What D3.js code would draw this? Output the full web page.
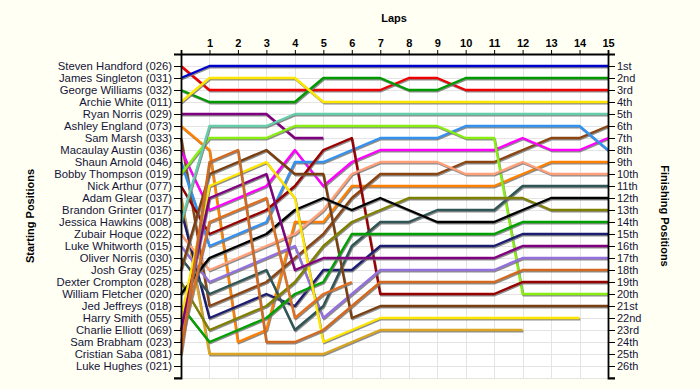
<!DOCTYPE html>
<html>
<head>
<meta charset="utf-8">
<script src="https://cdn.jsdelivr.net/npm/d3@7"></script>
<style>
  body { margin: 0; background: #fffff4; }
  svg { display: block; font-family: Arial, "Liberation Sans", sans-serif; }
</style>
</head>
<body>
<svg id="chart" width="700" height="390"></svg>
<script>
// grid order, top to bottom
var drivers = ['Steven Handford (026)', 'James Singleton (031)', 'George Williams (032)', 'Archie White (011)',
  'Ryan Norris (029)', 'Ashley England (073)', 'Sam Marsh (033)', 'Macaulay Austin (036)', 'Shaun Arnold (046)',
  'Bobby Thompson (019)', 'Nick Arthur (077)', 'Adam Glear (037)', 'Brandon Grinter (017)', 'Jessica Hawkins (008)',
  'Zubair Hoque (022)', 'Luke Whitworth (015)', 'Oliver Norris (030)', 'Josh Gray (025)', 'Dexter Crompton (028)',
  'William Fletcher (020)', 'Jed Jeffreys (018)', 'Harry Smith (055)', 'Charlie Elliott (069)', 'Sam Brabham (023)',
  'Cristian Saba (081)', 'Luke Hughes (021)']

var finishLabels = ['1st', '2nd', '3rd', '4th', '5th', '6th', '7th', '8th', '9th', '10th', '11th', '12th', '13th',
  '14th', '15th', '16th', '17th', '18th', '19th', '20th', '21st', '22nd', '23rd', '24th', '25th', '26th']

var lapTicks = d3.range(1, 16)

// position at lap 0..n, one row per driver (short rows = retired)
var positions = [
  [1, 3, 3, 3, 3, 3, 3, 3, 2, 2, 3, 3, 3, 3, 3, 3],
  [2, 1, 1, 1, 1, 1, 1, 1, 1, 1, 1, 1, 1, 1, 1, 1],
  [3, 4, 4, 4, 4, 2, 2, 2, 3, 3, 2, 2, 2, 2, 2, 2],
  [4, 2, 2, 2, 2, 4, 4, 4, 4, 4, 4, 4, 4, 4, 4, 4],
  [5, 5, 5, 5, 7, 7],
  [6, 8, 24, 23, 14, 14, 11, 11, 11, 11, 11, 11, 10, 9, 9, 9],
  [7, 21, 20, 19, 17, 15, 12, 10, 10, 10, 9, 9, 8, 7, 7, 6],
  [8, 13, 12, 11, 8, 11, 9, 8, 8, 8, 8, 8, 7, 8, 8, 7],
  [9, 16, 15, 14, 9, 9, 8, 7, 7, 7, 6, 6, 6, 6, 6, 8],
  [10, 7, 7, 7, 6, 6, 6, 6, 6, 6, 7, 7, 20, 20, 20, 20],
  [11, 15, 14, 13, 11, 8, 7, 20, 20, 20, 20, 20, 19, 19, 19, 19],
  [12, 25, 25, 25, 25, 25, 24, 23, 23, 23, 23, 23, 23],
  [13, 22, 21, 20, 21, 18, 18, 16, 16, 16, 16, 16, 15, 15, 15, 15],
  [14, 6, 6, 6, 5, 5, 5, 5, 5, 5, 5, 5, 5, 5, 5, 5],
  [15, 18, 17, 16, 15, 13, 10, 9, 9, 9, 10, 10, 9, 10, 10, 10],
  [16, 19, 18, 17, 16, 22, 20, 18, 18, 18, 18, 18, 17, 17, 17, 17],
  [17, 20, 19, 18, 23, 21, 16, 14, 14, 13, 13, 13, 11, 11, 11, 11],
  [18, 10, 9, 8, 10, 10, 22, 21, 21, 21, 21, 21, 21, 21, 21, 21],
  [19, 23, 22, 21, 19, 16, 14, 13, 12, 12, 12, 12, 12, 13, 13, 13],
  [20, 17, 16, 15, 13, 12, 13, 12, 13, 14, 14, 14, 13, 12, 12, 12],
  [21, 24, 23, 22, 20, 19, 15, 15, 15, 15, 15, 15, 14, 14, 14, 14],
  [22, 11, 10, 9, 12, 24, 23, 22, 22, 22, 22, 22, 22, 22, 22],
  [23, 12, 11, 10, 18, 17, 17, 17, 17, 17, 17, 17, 16, 16, 16, 16],
  [24, 14, 13, 12, 22, 20, 19],
  [25, 9, 8, 24, 24, 23, 21, 19, 19, 19, 19, 19, 18, 18, 18, 18],
  []
]

var colors = ['#ee0000', '#0000cc', '#009a00', '#ffe600', '#800080', '#ff8000', '#8b4513', '#ff00ff', '#3391f0',
  '#88ee11', '#990000', '#daa520', '#1c1c70', '#66cdaa', '#ffa07a', '#9370db', '#2f5555', '#7a3f10', '#808000',
  '#000000', '#00a000', '#ffe600', '#800080', '#e07020', '#d2691e', '#888888']

var svg = d3.select('#chart')
  , plotLeft = 181
  , plotRight = 608
  , plotTop = 54
  , plotBottom = 378

var x = d3.scaleLinear().domain([0, 15]).range([plotLeft, plotRight])
var y = d3.scaleLinear().domain([0, 27]).range([plotTop, plotBottom])

svg.append('rect')
  .attr('x', plotLeft).attr('y', plotTop)
  .attr('width', plotRight - plotLeft).attr('height', plotBottom - plotTop)
  .attr('fill', '#ffffff')

//grid
var grid = svg.append('g').attr('stroke', '#e4e4e4').attr('stroke-width', 1)
grid.selectAll('.vgrid')
  .data(d3.range(1, 15))
  .enter().append('line')
  .attr('x1', function (d) { return Math.round(x(d)) + 0.5 })
  .attr('x2', function (d) { return Math.round(x(d)) + 0.5 })
  .attr('y1', plotTop).attr('y2', plotBottom)
grid.selectAll('.hgrid')
  .data(d3.range(1, 28))
  .enter().append('line')
  .attr('y1', function (d) { return Math.round(y(d)) + 0.5 })
  .attr('y2', function (d) { return Math.round(y(d)) + 0.5 })
  .attr('x1', plotLeft).attr('x2', plotRight)

//lines
var line = d3.line()
  .x(function (d) { return x(d[0]) })
  .y(function (d) { return y(d[1]) })

var series = svg.append('g').attr('fill', 'none').attr('stroke-linejoin', 'round')
positions.forEach(function (row, i) {
  if (row.length < 2) return
  var pts = row.map(function (p, lap) { return [lap, p] })
  series.append('path')
    .attr('d', line(pts))
    .attr('transform', 'translate(0.8,1.3)')
    .attr('stroke', '#707070')
    .attr('stroke-opacity', 0.8)
    .attr('stroke-width', 2.2)
  series.append('path')
    .attr('d', line(pts))
    .attr('stroke', colors[i])
    .attr('stroke-width', 2.4)
})

//axes
var textColor = '#14143a'

var leftAxis = svg.append('g')
  .attr('transform', 'translate(' + plotLeft + ',0)')
  .call(d3.axisLeft(y).tickValues(d3.range(1, 27)).tickSize(7).tickPadding(2)
    .tickFormat(function (d) { return drivers[d - 1] }))
leftAxis.append('line').attr('x1', -7).attr('x2', 0).attr('y1', plotBottom).attr('y2', plotBottom).attr('stroke', '#000')

var rightAxis = svg.append('g')
  .attr('transform', 'translate(' + plotRight + ',0)')
  .call(d3.axisRight(y).tickValues(d3.range(1, 27)).tickSize(7).tickPadding(2)
    .tickFormat(function (d) { return finishLabels[d - 1] }))
rightAxis.append('line').attr('x1', 0).attr('x2', 7).attr('y1', plotBottom).attr('y2', plotBottom).attr('stroke', '#000')

var topAxis = svg.append('g')
  .attr('transform', 'translate(0,' + plotTop + ')')
  .call(d3.axisTop(x).tickValues(lapTicks).tickSize(4).tickPadding(3))

svg.selectAll('.domain').attr('stroke', '#000').attr('stroke-width', 1.8)
svg.selectAll('.tick line').attr('stroke', '#000')
svg.selectAll('.tick text')
  .attr('fill', textColor)
  .style('font-size', '11px')
  .style('font-family', 'Arial, "Liberation Sans", sans-serif')
leftAxis.selectAll('.tick text').style('font-size', '11.3px')
topAxis.selectAll('.tick text').style('font-weight', 'bold').attr('fill', '#000')

//titles
svg.append('text')
  .attr('x', 394).attr('y', 22)
  .attr('text-anchor', 'middle')
  .style('font-size', '11px').style('font-weight', 'bold')
  .text('Laps')

svg.append('text')
  .attr('transform', 'translate(34,216) rotate(-90)')
  .attr('text-anchor', 'middle')
  .style('font-size', '11px').style('font-weight', 'bold')
  .text('Starting Positions')

svg.append('text')
  .attr('transform', 'translate(661,216) rotate(90)')
  .attr('text-anchor', 'middle')
  .style('font-size', '11px').style('font-weight', 'bold')
  .text('Finishing Positions')
</script>
</body>
</html>
